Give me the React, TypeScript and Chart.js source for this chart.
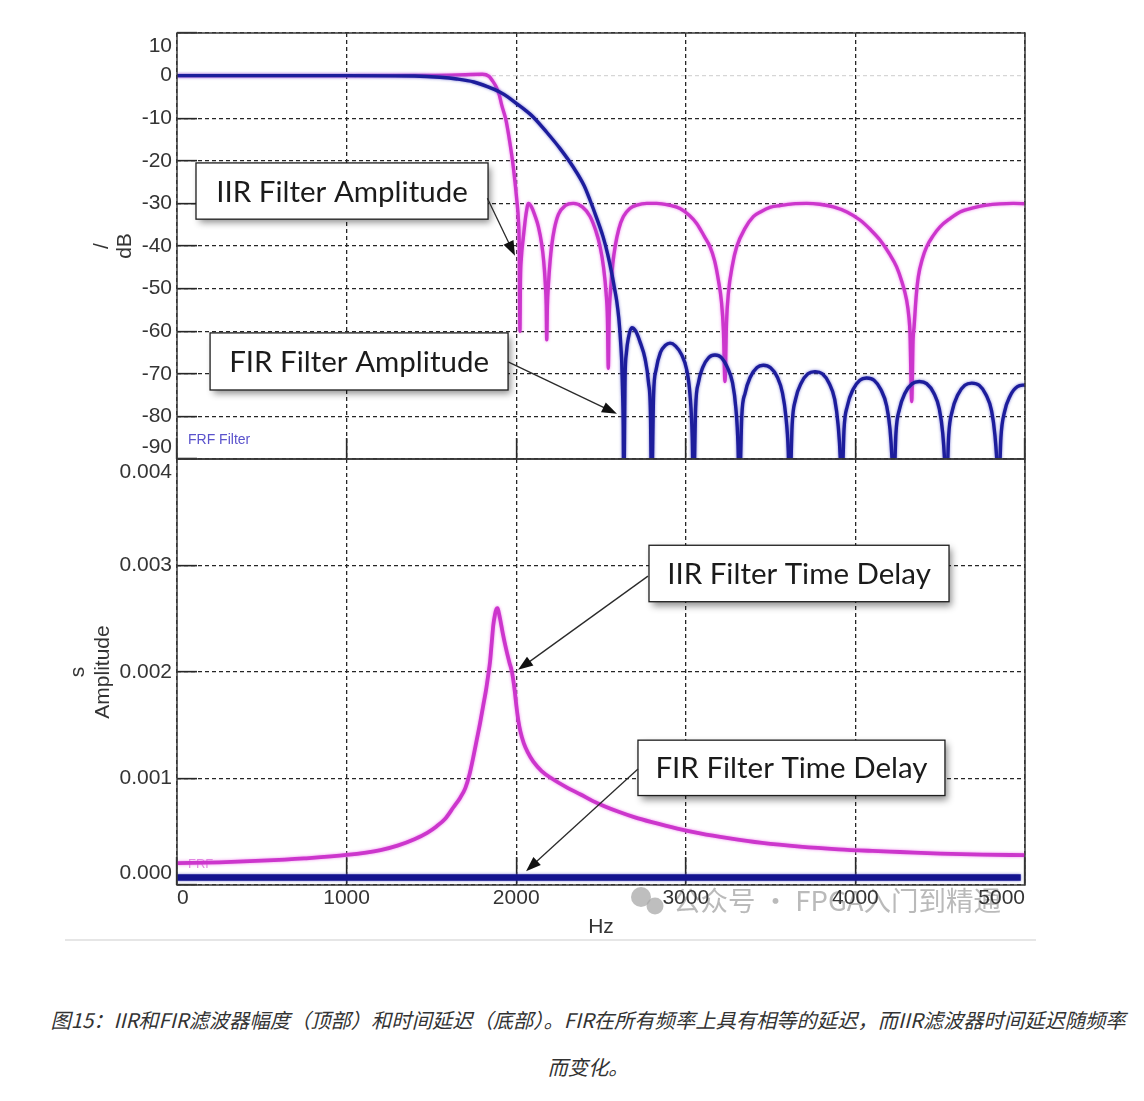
import React, { useEffect, useRef } from "react";
import { Chart, registerables } from "chart.js";

Chart.register(...registerables);

// ---------------- data ----------------
const HZ_TICKS = [0, 1000, 2000, 3000, 4000, 5000];
const DB_TICKS = [10, 0, -10, -20, -30, -40, -50, -60, -70, -80, -90];
const DELAY_TICKS = [0.004, 0.003, 0.002, 0.001, 0];

// FIR amplitude, [Hz, dB]
const firAmplitude: [number, number][] = [
  [0, 0], [500, 0], [1000, 0], [1400, -0.1], [1550, -0.4], [1650, -0.8], [1750, -1.5], [1830, -2.6],
  [1900, -3.8], [1950, -5], [2000, -6.5], [2050, -8], [2100, -9.7], [2180, -13.3], [2260, -17.2],
  [2335, -21.4], [2400, -25.8], [2435, -29.2], [2475, -33.5], [2512, -37.8], [2540, -42], [2563, -46.3],
  [2580, -50], [2593, -53], [2605, -57], [2612, -60.4], [2618, -64], [2622, -67], [2627, -74], [2631, -82],
  [2634, -100],
  [2642, -71], [2650, -65], [2662, -61.5], [2681, -59.2], [2705, -60], [2730, -62.5], [2760, -66.5],
  [2780, -72], [2792, -80], [2798, -100],
  [2810, -75], [2825, -69], [2850, -65], [2880, -63.3], [2907, -62.8], [2940, -63.5], [2975, -65.5],
  [3005, -69], [3025, -75], [3038, -85], [3045, -100],
  [3058, -78], [3075, -72], [3100, -68.5], [3135, -66.2], [3172, -65.6], [3210, -66.2], [3245, -68.5],
  [3275, -72], [3295, -78], [3308, -87], [3315, -100],
  [3330, -80], [3350, -74.5], [3380, -70.8], [3420, -68.5], [3457, -68], [3500, -68.6], [3540, -70.8],
  [3570, -74.5], [3590, -80], [3604, -88], [3612, -100],
  [3627, -82], [3647, -76], [3680, -72.2], [3720, -70], [3762, -69.5], [3805, -70], [3845, -72.2],
  [3878, -76], [3898, -82], [3911, -90], [3918, -100],
  [3933, -83], [3953, -77.5], [3986, -73.7], [4026, -71.5], [4066, -71], [4110, -71.5], [4150, -73.7],
  [4184, -77.5], [4204, -83], [4217, -91], [4224, -100],
  [4239, -84], [4260, -78.3], [4293, -74.5], [4335, -72.3], [4377, -71.8], [4420, -72.3], [4462, -74.5],
  [4495, -78.3], [4515, -84], [4528, -92], [4535, -100],
  [4550, -84.5], [4571, -78.7], [4604, -74.9], [4645, -72.7], [4686, -72.2], [4730, -72.7], [4770, -74.9],
  [4803, -78.7], [4823, -84.5], [4836, -92], [4843, -100],
  [4858, -85], [4879, -79], [4912, -75.2], [4955, -73], [5000, -72.6],
];

// IIR amplitude, [Hz, dB]
const iirAmplitude: [number, number][] = [
  [0, 0], [1000, 0], [1500, 0.05], [1700, 0.2], [1800, 0.3], [1840, -0.2], [1860, -1.2], [1880, -2.5],
  [1900, -4.5], [1915, -7], [1940, -10.5], [1963, -15.8], [1980, -20.5], [1993, -25], [2003, -29],
  [2013, -33.9], [2018, -40], [2022, -60], [2025, -48], [2030, -43], [2042, -38], [2058, -32.5],
  [2072, -30], [2090, -30.8], [2110, -32.8], [2131, -35.5], [2150, -39.5], [2162, -43.5], [2171, -48.5],
  [2177, -54], [2180, -62], [2184, -54], [2190, -49], [2200, -43.5], [2209, -40], [2225, -36],
  [2249, -32.6], [2290, -30.5], [2337, -30], [2390, -30.8], [2435, -33], [2470, -36.5], [2494, -40],
  [2515, -45], [2530, -51], [2538, -57], [2543, -68.7], [2548, -57], [2557, -50], [2570, -44],
  [2583, -40.2], [2605, -36], [2632, -33.1], [2670, -31.2], [2711, -30.4], [2770, -30], [2828, -30],
  [2900, -30.4], [2966, -31.2], [3020, -32.8], [3064, -34.7], [3110, -37.8], [3143, -40.2], [3170, -43.5],
  [3192, -48], [3210, -53], [3222, -60], [3231, -71.8], [3240, -58], [3251, -51.1], [3275, -44.5],
  [3300, -40.2], [3350, -35.8], [3398, -33.1], [3440, -32], [3500, -30.9], [3556, -30.5], [3630, -30.1],
  [3713, -30], [3790, -30.2], [3870, -30.8], [3950, -32], [4027, -33.9], [4090, -36.2], [4145, -38.6],
  [4200, -41.8], [4243, -44.9], [4275, -48.5], [4302, -52.7], [4315, -56.5], [4322, -60.5], [4332, -76.5],
  [4340, -62], [4346, -59], [4358, -52], [4371, -47.2], [4395, -43], [4420, -40.2], [4460, -37.5],
  [4499, -35.5], [4560, -33.5], [4617, -32], [4700, -31], [4774, -30.4], [4850, -30.1], [4931, -30],
  [5000, -30.1],
];

// IIR time delay, [Hz, s]
const iirDelay: [number, number][] = [
  [0, 0.000205], [250, 0.000213], [500, 0.000228], [750, 0.00025], [1000, 0.000282], [1200, 0.000328],
  [1300, 0.00037], [1400, 0.00043], [1475, 0.00049], [1530, 0.00055], [1580, 0.00062], [1630, 0.00073],
  [1670, 0.00082], [1700, 0.00091], [1725, 0.00104], [1747, 0.0012], [1767, 0.00136], [1787, 0.00152],
  [1805, 0.00168], [1822, 0.00183], [1835, 0.00197], [1846, 0.0021], [1856, 0.00228], [1865, 0.00244],
  [1875, 0.00254], [1883, 0.00259], [1890, 0.0026], [1897, 0.00256], [1905, 0.0025], [1920, 0.00237],
  [1940, 0.00222], [1960, 0.00209], [1975, 0.002], [1990, 0.00184], [2002, 0.00167], [2012, 0.00155],
  [2025, 0.00144], [2045, 0.00133], [2070, 0.00124], [2100, 0.00116], [2150, 0.00107], [2210, 0.001],
  [2300, 0.000915], [2380, 0.00085], [2450, 0.00079], [2520, 0.00074], [2600, 0.00069], [2700, 0.000635],
  [2800, 0.00059], [2950, 0.00053], [3084, 0.000485], [3250, 0.00044], [3450, 0.000395], [3673, 0.00036],
  [3900, 0.000335], [4100, 0.00032], [4263, 0.00031], [4500, 0.000295], [4750, 0.000285], [5000, 0.00028],
];

// FIR time delay, [Hz, s]
const firDelay: [number, number][] = [[0, 0.00007], [4975, 0.00007]];

type Note = {
  text: string;
  box: [number, number, number, number]; // xLeft, xRight, yTop, yBottom in data units
  from: [number, number];
  to: [number, number];
};

const topNotes: Note[] = [
  { text: "IIR Filter Amplitude", box: [112, 1834, -20.5, -33.7], from: [1830, -28.8], to: [1993, -42.3] },
  { text: "FIR Filter Amplitude", box: [195, 1952, -60.4, -73.8], from: [1952, -67.2], to: [2594, -79.4] },
];
const bottomNotes: Note[] = [
  { text: "IIR Filter Time Delay", box: [2783, 4552, 0.00319, 0.00266], from: [2777, 0.0029], to: [2011, 0.00202] },
  { text: "FIR Filter Time Delay", box: [2718, 4528, 0.00136, 0.00084], from: [2718, 0.00109], to: [2058, 0.00013] },
];

const CAPTION_1 = "图15：IIR和FIR滤波器幅度（顶部）和时间延迟（底部）。FIR在所有频率上具有相等的延迟，而IIR滤波器时间延迟随频率";
const CAPTION_2 = "而变化。";
const WATERMARK = "公众号 · FPGA入门到精通";

// ---------------- layout & style ----------------
const W = 1144;
const H = 950;
const PLOT_LEFT = 177;
const PLOT_RIGHT = 1025;
const TOP_TOP = 33;
const MID = 459;
const BOT_BOTTOM = 885;

const GRID = "#262626";
const TEXT = "#343434";
const TICK_FONT = '21px "Liberation Sans", Arial, sans-serif';
const NOTE_FONT = '29.5px Lato, "Open Sans", sans-serif';
const BLUE = "#1d1d9c";
const MAGENTA = "#cc36cc";

type DecorCfg = {
  yTicks: number[];
  yFmt: (v: number) => string;
  xTicks?: number[];
  titles: { text: string; x: number }[];
  inner: { text: string; color: string; font: string; dy: number };
  notes: Note[];
  bottomExtras?: boolean;
};

function vText(ctx: CanvasRenderingContext2D, text: string, x: number, y: number) {
  ctx.save();
  ctx.translate(x, y);
  ctx.rotate(-Math.PI / 2);
  ctx.textAlign = "center";
  ctx.textBaseline = "middle";
  ctx.fillText(text, 0, 0);
  ctx.restore();
}

function makeDecor(cfg: DecorCfg) {
  return {
    id: "decor",
    beforeDatasetsDraw(chart: any) {
      const { ctx, chartArea: a } = chart;
      ctx.save();
      ctx.font = cfg.inner.font;
      ctx.fillStyle = cfg.inner.color;
      ctx.textAlign = "left";
      ctx.textBaseline = "alphabetic";
      ctx.fillText(cfg.inner.text, a.left + 11, a.bottom - cfg.inner.dy);
      ctx.restore();
    },
    beforeDatasetDraw(chart: any, args: any) {
      const ds = chart.data.datasets[args.index];
      chart.ctx.save();
      if (ds.glow) {
        chart.ctx.shadowColor = ds.glow;
        chart.ctx.shadowBlur = 3;
      }
    },
    afterDatasetDraw(chart: any) {
      chart.ctx.restore();
    },
    afterDraw(chart: any) {
      const { ctx, chartArea: a, scales } = chart;
      const xs = scales.x;
      const ys = scales.y;

      // plot frame
      ctx.save();
      ctx.strokeStyle = "#3a3a3a";
      ctx.lineWidth = 1.5;
      ctx.strokeRect(a.left, a.top, a.right - a.left, a.bottom - a.top);
      ctx.restore();

      if (cfg.bottomExtras) {
        // separator line
        ctx.save();
        ctx.strokeStyle = "#e6e6e6";
        ctx.lineWidth = 2;
        ctx.beginPath();
        ctx.moveTo(65, 940);
        ctx.lineTo(1036, 940);
        ctx.stroke();
        // watermark
        ctx.fillStyle = "rgba(168,168,168,0.75)";
        ctx.beginPath();
        ctx.arc(641, 897, 10, 0, Math.PI * 2);
        ctx.fill();
        ctx.beginPath();
        ctx.arc(655, 906, 8.5, 0, Math.PI * 2);
        ctx.fill();
        ctx.font = '27.5px "Noto Sans CJK SC", sans-serif';
        ctx.fillStyle = "rgba(160,160,160,0.72)";
        ctx.textAlign = "left";
        ctx.textBaseline = "middle";
        ctx.fillText(WATERMARK, 673, 901);
        ctx.restore();
      }

      ctx.save();
      ctx.font = TICK_FONT;
      ctx.fillStyle = TEXT;
      // y tick labels
      ctx.textAlign = "right";
      ctx.textBaseline = "middle";
      for (const v of cfg.yTicks) {
        let py = ys.getPixelForValue(v);
        py = Math.min(Math.max(py, a.top + 13), a.bottom - 12);
        ctx.fillText(cfg.yFmt(v), a.left - 5, py);
      }
      // x tick labels
      if (cfg.xTicks) {
        ctx.textAlign = "left";
        for (const v of cfg.xTicks) {
          const label = String(v);
          const w = ctx.measureText(label).width;
          let lx = xs.getPixelForValue(v) - w / 2;
          lx = Math.min(Math.max(lx, a.left), a.right - w);
          ctx.fillText(label, lx, a.bottom + 13);
        }
        ctx.textAlign = "center";
        ctx.fillText("Hz", 601, 927);
      }
      // axis titles
      const cy = (a.top + a.bottom) / 2;
      for (const t of cfg.titles) vText(ctx, t.text, t.x, cy);
      ctx.restore();

      // annotations
      for (const n of cfg.notes) {
        const L = xs.getPixelForValue(n.box[0]);
        const R = xs.getPixelForValue(n.box[1]);
        const T = ys.getPixelForValue(n.box[2]);
        const B = ys.getPixelForValue(n.box[3]);
        ctx.save();
        ctx.shadowColor = "rgba(0,0,0,0.45)";
        ctx.shadowBlur = 7;
        ctx.shadowOffsetX = 3;
        ctx.shadowOffsetY = 4;
        ctx.fillStyle = "#ffffff";
        ctx.fillRect(L, T, R - L, B - T);
        ctx.restore();
        ctx.save();
        ctx.strokeStyle = "#1e1e1e";
        ctx.lineWidth = 1.3;
        ctx.strokeRect(L, T, R - L, B - T);
        ctx.font = NOTE_FONT;
        ctx.fillStyle = "#1b1b1b";
        ctx.textAlign = "center";
        ctx.textBaseline = "middle";
        ctx.fillText(n.text, (L + R) / 2, (T + B) / 2 + 1);
        // arrow
        const fx = xs.getPixelForValue(n.from[0]);
        const fy = ys.getPixelForValue(n.from[1]);
        const tx = xs.getPixelForValue(n.to[0]);
        const ty = ys.getPixelForValue(n.to[1]);
        const ang = Math.atan2(ty - fy, tx - fx);
        const hl = 15;
        const hw = 5.5;
        ctx.strokeStyle = "#2a2a2a";
        ctx.lineWidth = 1.3;
        ctx.beginPath();
        ctx.moveTo(fx, fy);
        ctx.lineTo(tx - Math.cos(ang) * hl * 0.8, ty - Math.sin(ang) * hl * 0.8);
        ctx.stroke();
        ctx.fillStyle = "#111";
        ctx.beginPath();
        ctx.moveTo(tx, ty);
        ctx.lineTo(tx - Math.cos(ang) * hl - Math.sin(ang) * hw, ty - Math.sin(ang) * hl + Math.cos(ang) * hw);
        ctx.lineTo(tx - Math.cos(ang) * hl + Math.sin(ang) * hw, ty - Math.sin(ang) * hl - Math.cos(ang) * hw);
        ctx.closePath();
        ctx.fill();
        ctx.restore();
      }
    },
  };
}

function scaleOpts(min: number, max: number, step: number, kind: "x" | "y", tickLen: number) {
  return {
    type: "linear" as const,
    min,
    max,
    ticks: { display: false, stepSize: step },
    grid: {
      color: (c: any) => (kind === "y" && c.tick && c.tick.value === 0 && min < 0 ? "#d6d6d6" : GRID),
      lineWidth: 1.3,
      drawTicks: true,
      tickLength: tickLen,
      tickColor: GRID,
      tickWidth: 1.6,
    },
    border: { display: false, dash: [4, 3] },
    afterFit: (s: any) => {
      if (kind === "y") s.width = PLOT_LEFT;
      else s.height = 0;
    },
  };
}

function toXY(arr: [number, number][]) {
  return arr.map(([x, y]) => ({ x, y }));
}

function lineDs(label: string, data: [number, number][], color: string, width: number, glow?: string) {
  return {
    label,
    data: toXY(data),
    borderColor: color,
    backgroundColor: color,
    borderWidth: width,
    pointRadius: 0,
    fill: false,
    cubicInterpolationMode: "monotone" as const,
    clip: 0,
    glow,
  };
}

export default function App() {
  const topRef = useRef<HTMLCanvasElement>(null);
  const botRef = useRef<HTMLCanvasElement>(null);

  useEffect(() => {
    const top = new Chart(topRef.current as HTMLCanvasElement, {
      type: "line",
      data: {
        datasets: [
          lineDs("FIR Filter Amplitude", firAmplitude, BLUE, 3.4, "rgba(90,90,200,0.8)") as any,
          lineDs("IIR Filter Amplitude", iirAmplitude, MAGENTA, 3.4, "rgba(235,120,235,0.9)") as any,
        ],
      },
      options: {
        animation: false,
        responsive: false,
        events: [],
        layout: { padding: { top: TOP_TOP, left: 0, right: W - PLOT_RIGHT, bottom: H - MID } },
        plugins: { legend: { display: false }, tooltip: { enabled: false } },
        scales: {
          x: scaleOpts(0, 5000, 1000, "x", -21) as any,
          y: scaleOpts(-90, 10, 10, "y", -20) as any,
        },
      },
      plugins: [
        makeDecor({
          yTicks: DB_TICKS,
          yFmt: (v) => String(v),
          titles: [
            { text: "/", x: 102 },
            { text: "dB", x: 125 },
          ],
          inner: { text: "FRF Filter", color: "#5a52cc", font: '14px "Liberation Sans", Arial, sans-serif', dy: 15 },
          notes: topNotes,
        }) as any,
      ],
    });

    const bottom = new Chart(botRef.current as HTMLCanvasElement, {
      type: "line",
      data: {
        datasets: [
          lineDs("IIR Filter Time Delay", iirDelay, MAGENTA, 3.8, "rgba(235,120,235,0.9)") as any,
          lineDs("FIR Filter Time Delay", firDelay, "#13138f", 6.5, "rgba(90,90,200,0.8)") as any,
        ],
      },
      options: {
        animation: false,
        responsive: false,
        events: [],
        layout: { padding: { top: MID, left: 0, right: W - PLOT_RIGHT, bottom: H - BOT_BOTTOM } },
        plugins: { legend: { display: false }, tooltip: { enabled: false } },
        scales: {
          x: scaleOpts(0, 5000, 1000, "x", -28) as any,
          y: scaleOpts(0, 0.004, 0.001, "y", -20) as any,
        },
      },
      plugins: [
        makeDecor({
          yTicks: DELAY_TICKS,
          yFmt: (v) => v.toFixed(3),
          xTicks: HZ_TICKS,
          titles: [
            { text: "s", x: 78 },
            { text: "Amplitude", x: 103 },
          ],
          inner: { text: "FRF", color: "#e08ae0", font: '13px "Liberation Sans", Arial, sans-serif', dy: 17 },
          notes: bottomNotes,
          bottomExtras: true,
        }) as any,
      ],
    });

    return () => {
      top.destroy();
      bottom.destroy();
    };
  }, []);

  return (
    <div
      style={{
        position: "absolute",
        left: 0,
        top: 0,
        width: 1144,
        height: 1101,
        background: "#ffffff",
        overflow: "hidden",
      }}
    >
      <canvas ref={topRef} width={W} height={H} style={{ position: "absolute", left: 0, top: 0 }} />
      <canvas ref={botRef} width={W} height={H} style={{ position: "absolute", left: 0, top: 0 }} />
      <div
        style={{
          position: "absolute",
          left: 40,
          width: 1096,
          top: 996,
          textAlign: "center",
          fontFamily: '"Noto Sans CJK SC", sans-serif',
          fontStyle: "italic",
          fontSize: 20.3,
          lineHeight: "47px",
          color: "#333333",
          whiteSpace: "nowrap",
        }}
      >
        {CAPTION_1}
        <br />
        {CAPTION_2}
      </div>
    </div>
  );
}
